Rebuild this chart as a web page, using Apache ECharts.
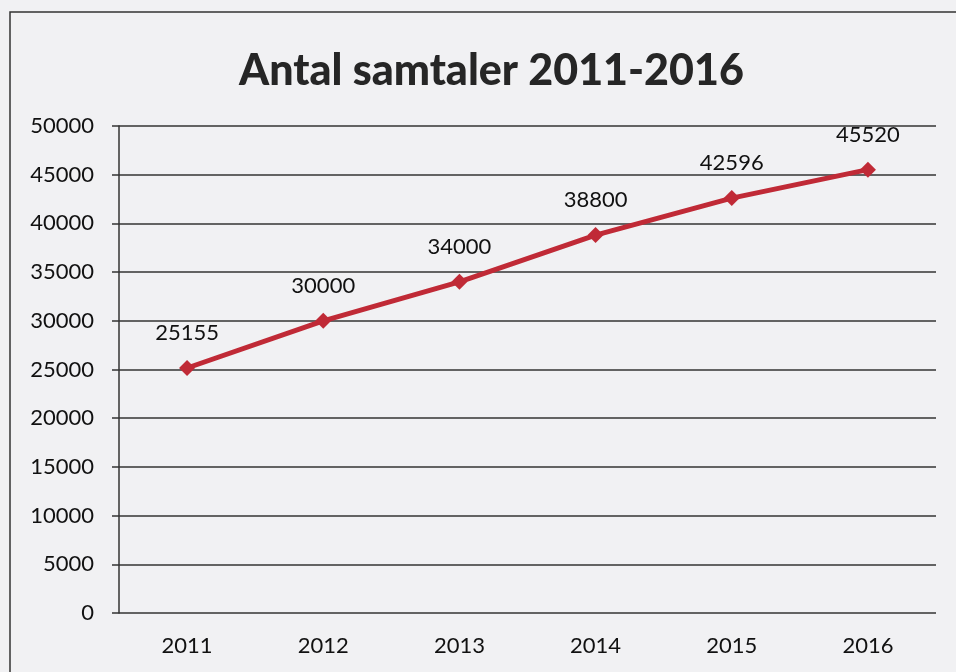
<!DOCTYPE html>
<html>
<head>
<meta charset="utf-8">
<script src="https://cdn.jsdelivr.net/npm/echarts@6/dist/echarts.min.js"></script>
<style>
  html, body { margin: 0; padding: 0; background: #f1f1f3; }
  #chart { width: 956px; height: 672px; }
</style>
</head>
<body>
<div id="chart"></div>
<script>
const years = ['2011', '2012', '2013', '2014', '2015', '2016'];
const calls = [25155, 30000, 34000, 38800, 42596, 45520];

const chart = echarts.init(document.getElementById('chart'));

const option = {
  backgroundColor: '#f1f1f3',
  animation: false,
  title: {
    text: 'Antal samtaler 2011-2016',
    left: 234,
    top: 45,
    textStyle: {
      fontFamily: 'Lato',
      fontWeight: 900,
      fontSize: 43,
      color: '#262626'
    }
  },
  graphic: [
    {
      type: 'rect',
      shape: { x: 10, y: 12, width: 980, height: 700 },
      style: { fill: 'none', stroke: '#333', lineWidth: 1.5 },
      silent: true
    }
  ],
  grid: {
    left: 119,
    right: 20,
    top: 126,
    bottom: 59
  },
  xAxis: {
    type: 'category',
    data: years,
    boundaryGap: true,
    axisLine: { show: false },
    axisTick: { show: false },
    axisLabel: {
      fontFamily: 'Lato',
      fontSize: 22,
      color: '#111',
      margin: 22
    }
  },
  yAxis: {
    type: 'value',
    min: 0,
    max: 50000,
    interval: 5000,
    axisLine: { show: true, lineStyle: { color: '#333', width: 1.5 } },
    axisTick: { show: true, length: 7, lineStyle: { color: '#333', width: 1.5 } },
    axisLabel: {
      fontFamily: 'Lato',
      fontSize: 22,
      color: '#111',
      margin: 25,
      formatter: v => String(v)
    },
    splitLine: { lineStyle: { color: '#333', width: 1.5 } }
  },
  series: [
    {
      type: 'line',
      data: calls,
      symbol: 'diamond',
      symbolSize: 16,
      lineStyle: { color: '#c02a36', width: 5 },
      itemStyle: { color: '#c02a36' },
      label: {
        show: true,
        position: 'top',
        distance: 16,
        fontFamily: 'Lato',
        fontSize: 22,
        color: '#111'
      }
    }
  ]
};

chart.setOption(option);
</script>
</body>
</html>
